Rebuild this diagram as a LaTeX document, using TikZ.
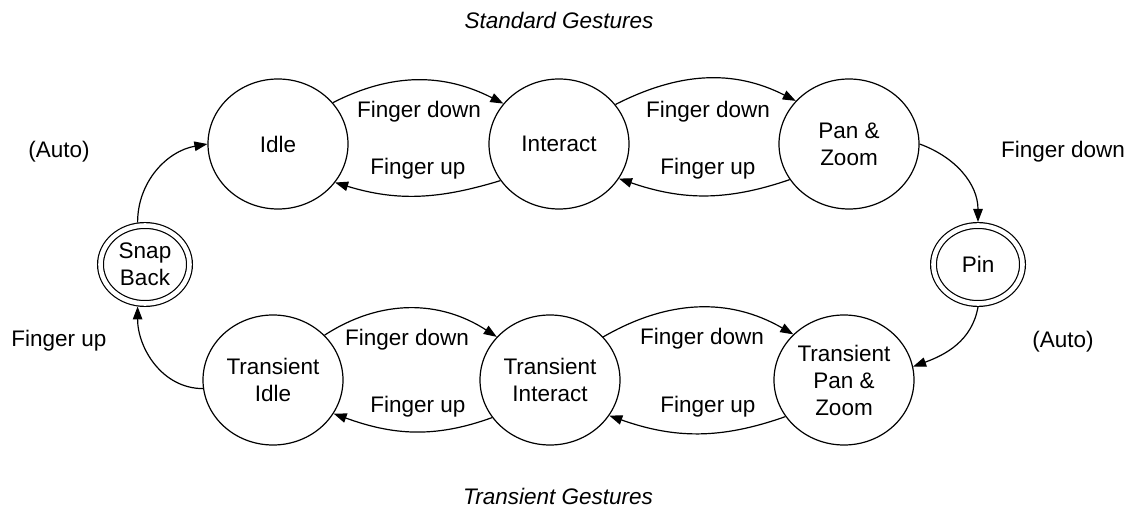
\documentclass[tikz,border=0pt]{standalone}
\usepackage{fontspec}
\setmainfont{Liberation Sans}
\usetikzlibrary{shapes.geometric,arrows.meta}
\begin{document}
\begin{tikzpicture}[x=1pt,y=1pt,
  state/.style={draw,ellipse,line width=1.2pt,minimum width=140pt,minimum height=130pt,
    inner sep=0pt,align=center,font=\fontsize{22.5}{27}\selectfont},
  final/.style={draw,ellipse,line width=1.2pt,double,double distance=4.6pt,
    minimum width=89pt,minimum height=78pt,inner sep=0pt,outer sep=3.5pt,
    align=center,font=\fontsize{22.5}{27}\selectfont},
  lbl/.style={inner sep=0pt,font=\fontsize{22.5}{27}\selectfont},
  heading/.style={inner sep=0pt,font=\fontsize{22.5}{27}\selectfont\itshape},
  trans/.style={line width=1.2pt,-{Triangle[length=13pt,width=9.5pt]}}
]
\useasboundingbox (0,0) rectangle (1133,-510);

% headings
\node[heading] (hstd) at (559,-20) {Standard Gestures};
\node[heading] (htr) at (558,-496) {Transient Gestures};

% states
\node[state] (idle) at (278,-144) {Idle};
\node[state] (inter) at (559,-144) {Interact};
\node[state] (pz) at (849,-144) {Pan \&\\Zoom};
\node[final] (pin) at (978,-264.5) {Pin};
\node[final] (snap) at (145,-264.5) {Snap\\Back};
\node[state] (tidle) at (273,-380) {Transient\\Idle};
\node[state] (tinter) at (550,-380) {Transient\\Interact};
\node[state] (tpz) at (844,-380) {Transient\\Pan \&\\Zoom};

% standard row
\draw[trans] (idle.37) to[out=27,in=153] (inter.144);
\draw[trans] (inter.212) to[out=197,in=343] (idle.326);
\draw[trans] (inter.35) to[out=27,in=153] (pz.141);
\draw[trans] (pz.211) to[out=199,in=341] (inter.330);

% pin and snap back
\draw[trans] (pz.0) to[out=-20,in=90] (pin.north);
\draw[trans] (pin.south) to[out=-100,in=20] (tpz.11);
\draw[trans] (tidle.187) to[out=180,in=-90] (snap.260);
\draw[trans] (snap.100) to[out=90,in=190] (idle.west);

% transient row
\draw[trans] (tidle.41) to[out=33,in=147] (tinter.141);
\draw[trans] (tinter.213) to[out=200,in=340] (tidle.331);
\draw[trans] (tinter.39) to[out=30,in=150] (tpz.138);
\draw[trans] (tpz.212) to[out=199.5,in=340.5] (tinter.329);

% labels
\node[lbl] (l1) at (419,-112) {Finger down};
\node[lbl] (l2) at (418,-169) {Finger up};
\node[lbl] (l3) at (708,-112) {Finger down};
\node[lbl] (l4) at (708,-169) {Finger up};
\node[lbl] (l5) at (1063,-152) {Finger down};
\node[lbl] (l6) at (1063,-342) {(Auto)};
\node[lbl] (l7) at (59,-152) {(Auto)};
\node[lbl] (l8) at (59,-341) {Finger up};
\node[lbl] (l9) at (407,-340) {Finger down};
\node[lbl] (l10) at (418,-407) {Finger up};
\node[lbl] (l11) at (702,-339) {Finger down};
\node[lbl] (l12) at (708,-407) {Finger up};
\end{tikzpicture}
\end{document}
